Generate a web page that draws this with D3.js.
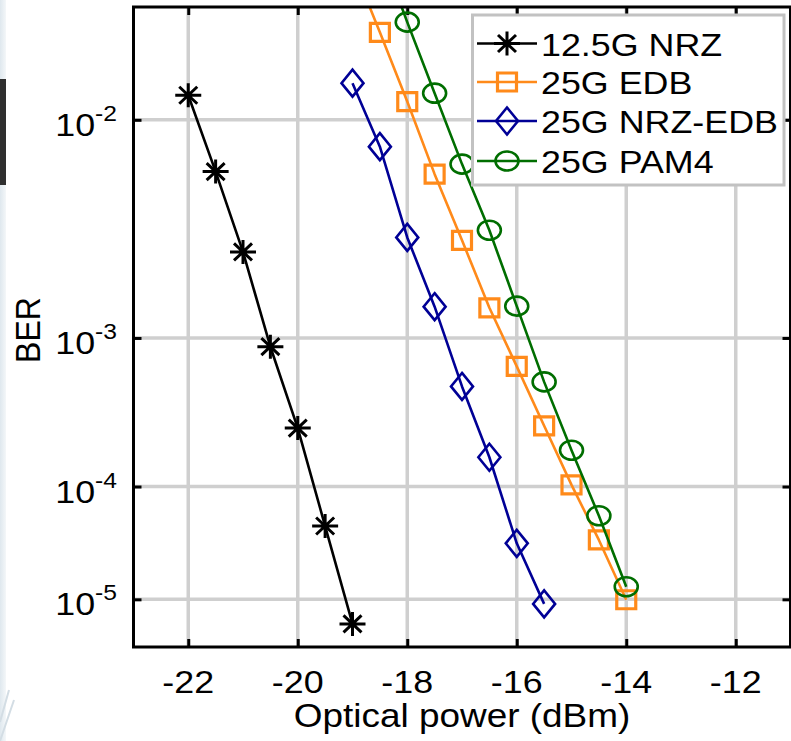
<!DOCTYPE html>
<html>
<head>
<meta charset="utf-8">
<script src="https://cdn.jsdelivr.net/npm/d3@7"></script>
<style>
  html, body { margin: 0; padding: 0; background: #fff; }
  svg { display: block; }
  text { font-family: "Liberation Sans", Arial, Helvetica, sans-serif; fill: #000; }
</style>
</head>
<body>
<svg id="chart" width="791" height="741"></svg>
<script>
// ---- data: received optical power (dBm) vs. bit error rate ----
const powerNRZ = [-22, -21.5, -21, -20.5, -20, -19.5, -19];
const berNRZ   = [1.22e-2, 6.35e-3, 2.82e-3, 8.9e-4, 2.70e-4, 4.75e-5, 5.6e-6];

const powerEDB = [-19, -18.5, -18, -17.5, -17, -16.5, -16, -15.5, -15, -14.5, -14];
const berEDB   = [3.0e-2, 1.94e-2, 1.16e-2, 6.2e-3, 3.2e-3, 1.47e-3, 6.8e-4, 2.8e-4, 1.03e-4, 3.6e-5, 9.9e-6];

const powerNRZEDB = [-19, -18.5, -18, -17.5, -17, -16.5, -16, -15.5];
const berNRZEDB   = [1.34e-2, 7.95e-3, 3.3e-3, 1.49e-3, 5.1e-4, 1.67e-4, 3.36e-5, 9.0e-6];

const powerPAM4 = [-18.5, -18, -17.5, -17, -16.5, -16, -15.5, -15, -14.5, -14];
const berPAM4   = [3.3e-2, 2.08e-2, 1.24e-2, 6.8e-3, 3.56e-3, 1.50e-3, 5.45e-4, 1.88e-4, 5.8e-5, 1.33e-5];

const seriesNames  = ["12.5G NRZ", "25G EDB", "25G NRZ-EDB", "25G PAM4"];
const xTickValues  = [-22, -20, -18, -16, -14, -12];
const yTickExps    = [-2, -3, -4, -5];
const xAxisTitle   = "Optical power (dBm)";
const yAxisTitle   = "BER";

// ---- layout & style ----
const W = 791, H = 741;
const plot = { left: 133.5, right: 790.5, top: 7, bottom: 647 };
const SX = 1.12;                 // horizontal text stretch
const FONT = "Liberation Sans, Arial, sans-serif";
const colors  = ["#000000", "#ff8a1a", "#000096", "#006e00"];
const markers = ["star", "square", "diamond", "circle"];

const series = [
  { name: seriesNames[0], x: powerNRZ,    y: berNRZ },
  { name: seriesNames[1], x: powerEDB,    y: berEDB },
  { name: seriesNames[2], x: powerNRZEDB, y: berNRZEDB },
  { name: seriesNames[3], x: powerPAM4,   y: berPAM4 }
].map((s, i) => ({ ...s, color: colors[i], marker: markers[i],
                   pts: s.x.map((v, j) => [v, s.y[j]]) }));

const svg = d3.select("#chart");

// slide edge on the far left
const defs = svg.append("defs");
const grad = defs.append("linearGradient").attr("id", "edge").attr("x1", 0).attr("x2", 1);
grad.append("stop").attr("offset", 0).attr("stop-color", "#dfe8ee");
grad.append("stop").attr("offset", 1).attr("stop-color", "#f4f7f9");
svg.append("rect").attr("x", 0).attr("y", 0).attr("width", 6).attr("height", H).attr("fill", "url(#edge)");
svg.append("rect").attr("x", 0).attr("y", 79).attr("width", 6).attr("height", 106).attr("fill", "#2f2f2f");
svg.append("path").attr("d", "M0,722 L9,690 M0,741 L14,700")
  .attr("stroke", "#d3dde4").attr("stroke-width", 2).attr("fill", "none");

// ---- scales ----
const x = d3.scaleLinear().domain([-23, -11]).range([plot.left, plot.right]);
// BER axis: logarithm of (-log10(BER) - 0.3)
const berT = b => -Math.log10(b) - 0.3;
const yT = d3.scaleLog()
  .domain([berT(2.3e-2), berT(Math.pow(10, -5.5))])
  .range([plot.top, plot.bottom]);
const y = b => yT(berT(b));

// ---- grid ----
const grid = svg.append("g").attr("stroke", "#cfcfcf").attr("stroke-width", 3.5);
grid.selectAll(".gx").data(xTickValues).join("line")
  .attr("x1", d => x(d)).attr("x2", d => x(d))
  .attr("y1", plot.top).attr("y2", plot.bottom);
grid.selectAll(".gy").data(yTickExps).join("line")
  .attr("x1", plot.left).attr("x2", plot.right)
  .attr("y1", d => y(Math.pow(10, d))).attr("y2", d => y(Math.pow(10, d)));

// ---- inward ticks on all four sides ----
const tickLen = 8;
function styleAxis(g) {
  g.select(".domain").remove();
  g.selectAll(".tick line").attr("stroke", "#000").attr("stroke-width", 3);
  g.selectAll(".tick text").remove();
}
const yTickT = yTickExps.map(e => berT(Math.pow(10, e)));
svg.append("g").attr("transform", `translate(0,${plot.bottom})`)
  .call(d3.axisBottom(x).tickValues(xTickValues).tickSize(-tickLen).tickSizeOuter(0)).call(styleAxis);
svg.append("g").attr("transform", `translate(0,${plot.top})`)
  .call(d3.axisTop(x).tickValues(xTickValues).tickSize(-tickLen).tickSizeOuter(0)).call(styleAxis);
svg.append("g").attr("transform", `translate(${plot.left},0)`)
  .call(d3.axisLeft(yT).tickValues(yTickT).tickSize(-tickLen).tickSizeOuter(0)).call(styleAxis);
svg.append("g").attr("transform", `translate(${plot.right},0)`)
  .call(d3.axisRight(yT).tickValues(yTickT).tickSize(-tickLen).tickSizeOuter(0)).call(styleAxis);

// ---- data ----
defs.append("clipPath").attr("id", "plotClip").append("rect")
  .attr("x", plot.left).attr("y", plot.top)
  .attr("width", plot.right - plot.left).attr("height", plot.bottom - plot.top);

function markerPath(type) {
  switch (type) {
    case "star":    return "M-13,0H13M0,-12V12M-9,-8.5L9,8.5M-9,8.5L9,-8.5";
    case "square":  return "M-9.5,-9H9.5V9H-9.5Z";
    case "diamond": return "M0,-13.5L11,0L0,13.5L-11,0Z";
    case "circle":  return "M-11.5,0A11.5,9.5 0 1,0 11.5,0A11.5,9.5 0 1,0 -11.5,0Z";
  }
}
function markerWidth(type) { return type === "star" ? 3 : (type === "square" ? 3.2 : 2.6); }

const line = d3.line().x(d => x(d[0])).y(d => y(d[1]));
const dataG = svg.append("g").attr("clip-path", "url(#plotClip)");
series.forEach(s => {
  const g = dataG.append("g");
  g.append("path").datum(s.pts).attr("d", line)
    .attr("fill", "none").attr("stroke", s.color).attr("stroke-width", 2.6)
    .attr("stroke-linejoin", "round");
  g.selectAll("path.mk").data(s.pts).join("path").attr("class", "mk")
    .attr("transform", d => `translate(${x(d[0])},${y(d[1])})`)
    .attr("d", markerPath(s.marker))
    .attr("fill", "none").attr("stroke", s.color).attr("stroke-width", markerWidth(s.marker));
});

// ---- frame ----
svg.append("rect").attr("x", plot.left).attr("y", plot.top)
  .attr("width", plot.right - plot.left).attr("height", plot.bottom - plot.top)
  .attr("fill", "none").attr("stroke", "#000").attr("stroke-width", 3);

// ---- tick labels ----
svg.append("g").selectAll("g").data(xTickValues).join("g")
  .attr("transform", d => `translate(${x(d)},692.5) scale(${SX},1)`)
  .append("text").attr("text-anchor", "middle").attr("font-size", 32)
  .text(d => String(d));

const yLab = svg.append("g").selectAll("g").data(yTickExps).join("g")
  .attr("transform", d => `translate(117,${y(Math.pow(10, d)) + 16}) scale(${SX},1)`)
  .append("text").attr("text-anchor", "end").attr("font-size", 32);
yLab.append("tspan").text("10");
yLab.append("tspan").attr("dy", -15).attr("font-size", 22).text(d => String(d));

// ---- axis titles ----
svg.append("g").attr("transform", `translate(${(plot.left + plot.right) / 2},727) scale(${SX},1)`)
  .append("text").attr("text-anchor", "middle").attr("font-size", 33).text(xAxisTitle);
svg.append("g").attr("transform", `translate(40,330) scale(${SX},1) rotate(-90)`)
  .append("text").attr("text-anchor", "middle").attr("font-size", 32).text(yAxisTitle);

// ---- legend ----
const leg = { x: 472.5, y: 15, w: 311.5, h: 170 };
const legG = svg.append("g");
legG.append("rect").attr("x", leg.x).attr("y", leg.y).attr("width", leg.w).attr("height", leg.h)
  .attr("fill", "#fff").attr("stroke", "#c2c2c2").attr("stroke-width", 3);
const rowY = [43.5, 82, 121, 161];
series.forEach((s, i) => {
  const ry = rowY[i];
  legG.append("line").attr("x1", 477).attr("x2", 537).attr("y1", ry).attr("y2", ry)
    .attr("stroke", s.color).attr("stroke-width", 2.6);
  legG.append("path").attr("transform", `translate(507,${ry})`)
    .attr("d", markerPath(s.marker))
    .attr("fill", "none").attr("stroke", s.color).attr("stroke-width", markerWidth(s.marker));
  legG.append("g").attr("transform", `translate(541,${ry + 12}) scale(${SX},1)`)
    .append("text").attr("font-size", 32).text(s.name);
});
</script>
</body>
</html>
